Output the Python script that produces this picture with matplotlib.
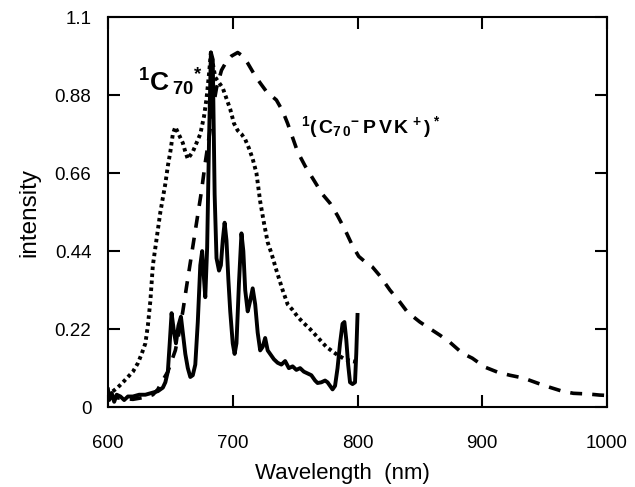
import numpy as np
import matplotlib
matplotlib.use("Agg")
import matplotlib.pyplot as plt

plt.rcParams['font.family'] = ['Liberation Sans', 'DejaVu Sans']
plt.rcParams['mathtext.fontset'] = 'custom'
plt.rcParams['mathtext.rm'] = 'Liberation Sans:bold'
plt.rcParams['mathtext.it'] = 'Liberation Sans:bold'
plt.rcParams['mathtext.bf'] = 'Liberation Sans:bold'
plt.rcParams['mathtext.default'] = 'bf'

# singlet C70 emission (dotted)
c70_x = [600, 603, 608, 612, 616, 620, 624, 627, 630, 632, 634, 636, 638, 640, 642,
         644, 646, 648, 650, 652, 654, 656, 658, 660, 662, 664, 666, 668, 671, 674,
         677, 679, 681, 682.5, 684, 686, 688, 690, 692, 695, 698, 701, 704, 707, 710,
         713, 716, 719, 722, 725, 728, 731, 735, 740, 744, 748, 752, 756, 762, 768,
         775, 780, 784, 790, 795, 800]
c70_y = [0.03, 0.042, 0.056, 0.07, 0.085, 0.10, 0.124, 0.15, 0.18, 0.23, 0.30, 0.40,
         0.45, 0.50, 0.55, 0.59, 0.63, 0.68, 0.72, 0.77, 0.79, 0.775, 0.76, 0.745,
         0.72, 0.70, 0.71, 0.72, 0.745, 0.77, 0.82, 0.87, 0.94, 1.0, 0.97, 0.93, 0.92,
         0.91, 0.90, 0.87, 0.84, 0.80, 0.78, 0.77, 0.755, 0.73, 0.70, 0.66, 0.58, 0.52,
         0.465, 0.434, 0.386, 0.33, 0.29, 0.274, 0.255, 0.24, 0.22, 0.197, 0.17, 0.157,
         0.147, 0.135, 0.13, 0.127]

# exciplex emission (dashed)
ex_x = [600, 610, 620, 630, 636, 640, 644, 648, 651, 654, 657, 660, 663, 667, 671,
        675, 678, 681, 684, 687, 691, 695, 699, 704, 708, 712, 717, 722, 727, 735,
        740, 744, 748, 752, 758, 765, 772, 778, 784, 790, 796, 801, 806, 812, 818,
        822, 826, 834, 840, 850, 856, 866, 874, 884, 892, 902, 912, 922, 933, 944,
        954, 964, 973, 985, 994, 1000]
ex_y = [0.03, 0.025, 0.022, 0.028, 0.035, 0.05, 0.076, 0.10, 0.13, 0.16, 0.21, 0.27,
        0.34, 0.43, 0.52, 0.61, 0.69, 0.76, 0.84, 0.90, 0.95, 0.975, 0.99, 1.0, 0.99,
        0.97, 0.94, 0.914, 0.89, 0.866, 0.835, 0.80, 0.76, 0.72, 0.68, 0.64, 0.60,
        0.575, 0.54, 0.50, 0.455, 0.425, 0.41, 0.395, 0.37, 0.35, 0.33, 0.296, 0.268,
        0.24, 0.226, 0.203, 0.183, 0.152, 0.138, 0.113, 0.099, 0.09, 0.082, 0.068,
        0.056, 0.045, 0.039, 0.037, 0.034, 0.033]

# film spectrum (solid)
film_x = [600, 601, 603, 605, 607, 610, 613, 616, 620, 625, 630, 635, 640, 644, 646,
          648, 649.5, 651, 653, 654.5, 656.5, 658.5, 660, 662, 664, 666, 668, 670,
          672, 674, 675.5, 677, 678, 679.5, 681, 682.5, 684, 685.5, 687, 689, 690.5,
          692, 693.5, 695, 696.5, 698, 700, 701.5, 703, 705, 707, 708.5, 710, 712,
          714, 716, 718, 720, 722, 724, 726, 728, 730, 733, 736, 739, 742, 745, 748,
          751, 754, 757, 760, 763, 766, 768, 771, 774, 776, 778, 780, 782, 784, 786,
          788, 789.5, 791, 792.5, 794, 796, 798, 799, 800]
film_y = [0.05, 0.02, 0.04, 0.015, 0.035, 0.03, 0.02, 0.03, 0.03, 0.035, 0.035, 0.04,
          0.045, 0.055, 0.07, 0.10, 0.18, 0.265, 0.21, 0.18, 0.23, 0.255, 0.21, 0.15,
          0.11, 0.085, 0.09, 0.12, 0.24, 0.40, 0.44, 0.36, 0.31, 0.45, 0.75, 1.0, 0.98,
          0.6, 0.42, 0.385, 0.40, 0.47, 0.52, 0.47, 0.36, 0.27, 0.18, 0.15, 0.18, 0.35,
          0.49, 0.44, 0.33, 0.27, 0.30, 0.335, 0.29, 0.21, 0.16, 0.17, 0.195, 0.16,
          0.15, 0.135, 0.125, 0.12, 0.13, 0.11, 0.115, 0.105, 0.11, 0.10, 0.095, 0.09,
          0.075, 0.068, 0.07, 0.075, 0.07, 0.06, 0.05, 0.06, 0.11, 0.18, 0.235, 0.24,
          0.19, 0.12, 0.07, 0.065, 0.07, 0.15, 0.26]

xticks = [600, 700, 800, 900, 1000]
yticks = [0, 0.22, 0.44, 0.66, 0.88, 1.1]
ytick_labels = ["0", "0.22", "0.44", "0.66", "0.88", "1.1"]

fig = plt.figure(figsize=(6.35, 4.87), dpi=100)
ax = fig.add_axes([0.170, 0.164, 0.786, 0.801])

ax.plot(c70_x, c70_y, color='black', lw=2.8, dashes=(0.9, 0.9))
ax.plot(ex_x, ex_y, color='black', lw=2.6, dashes=(3.3, 2.8))
ax.plot(film_x, film_y, color='black', lw=2.8, solid_joinstyle='round')

ax.set_xlim(600, 1000)
ax.set_ylim(0, 1.1)
ax.set_xticks(xticks)
ax.set_yticks(yticks)
ax.set_yticklabels(ytick_labels)
ax.tick_params(direction='in', length=8.5, width=1.5, labelsize=13.5,
               top=True, right=True)
ax.tick_params(axis='x', pad=20)
ax.tick_params(axis='y', pad=12)
for s in ax.spines.values():
    s.set_linewidth(1.5)

ax.set_xlabel("Wavelength  (nm)", fontsize=16, labelpad=8, x=0.47)
ax.set_ylabel("intensity", fontsize=17.5, labelpad=10)

ax.text(624, 0.915, r'$^{1}C\,_{70}{}^{*}$', fontsize=19, ha='left', va='center')
ax.text(755, 0.79, r'$^{1}(\,C_{7\,0}{}^{-}\,P\,V\,K^{\,+})\,^{*}$', fontsize=14,
        ha='left', va='center')

fig.savefig("out.png", dpi=100)
